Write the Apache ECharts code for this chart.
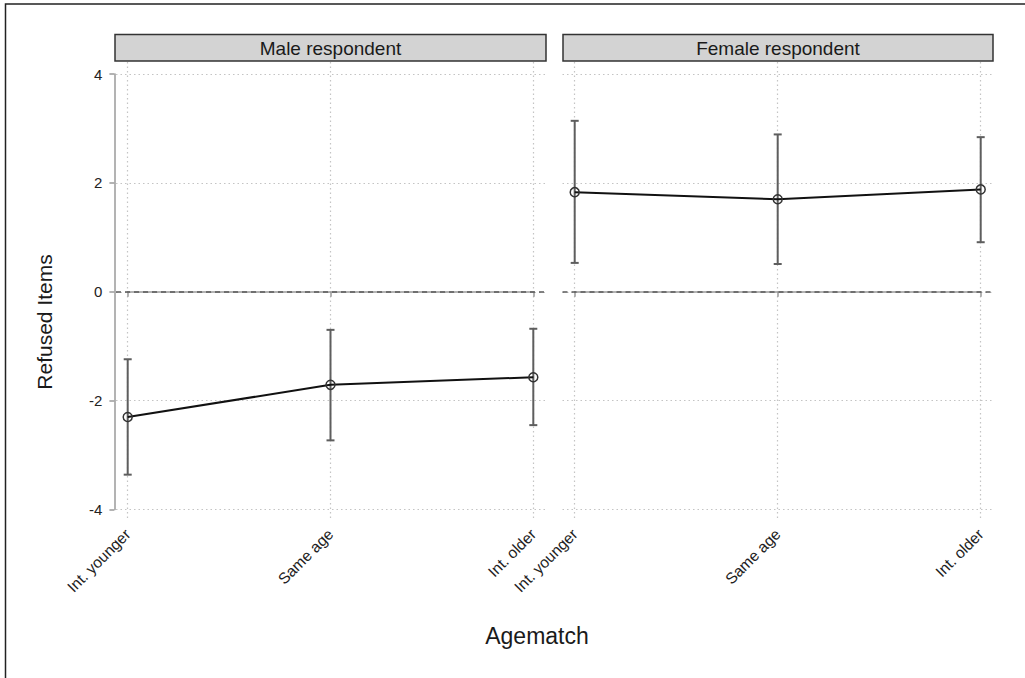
<!DOCTYPE html>
<html>
<head>
<meta charset="utf-8">
<style>
  html, body { margin: 0; padding: 0; background: #fff; }
  #chart { width: 1025px; height: 678px; }
</style>
<script src="https://cdn.jsdelivr.net/npm/echarts@6/dist/echarts.min.js"></script>
</head>
<body>
<div id="chart"></div>
<script>
// data
const categories = ['Int. younger', 'Same age', 'Int. older'];
const panelTitles = ['Male respondent', 'Female respondent'];
const maleMean = [-2.30, -1.71, -1.57];
const maleLow = [-3.36, -2.73, -2.45];
const maleHigh = [-1.24, -0.70, -0.68];
const femaleMean = [1.83, 1.70, 1.88];
const femaleLow = [0.53, 0.51, 0.91];
const femaleHigh = [3.14, 2.89, 2.84];
const yMin = -4, yMax = 4, yStep = 2;

const FONT = 'Liberation Sans, Arial, Helvetica, sans-serif';
const gridColor = '#c4c4c4';
const axisColor = '#9a9a9a';

// panel layout (px)
const panels = [
  { left: 127.7, right: 533.3, bgLeft: 116, bgRight: 546 },
  { left: 574.7, right: 980.7, bgLeft: 562.5, bgRight: 993 }
];
const plotTop = 74, plotBottom = 509.5;

function errorBarItem(params, api) {
  const x = api.value(0);
  const top = api.coord([x, api.value(2)]);
  const bot = api.coord([x, api.value(1)]);
  const cap = 4;
  const style = { stroke: '#5e5e5e', lineWidth: 2 };
  return {
    type: 'group',
    children: [
      { type: 'line', shape: { x1: top[0], y1: top[1], x2: bot[0], y2: bot[1] }, style },
      { type: 'line', shape: { x1: top[0] - cap, y1: top[1], x2: top[0] + cap, y2: top[1] }, style },
      { type: 'line', shape: { x1: bot[0] - cap, y1: bot[1], x2: bot[0] + cap, y2: bot[1] }, style }
    ]
  };
}

const grids = [], xAxes = [], yAxes = [], series = [];

panels.forEach((p, k) => {
  // 0/1: main plotting grids
  grids[k] = { left: p.left, top: plotTop, width: p.right - p.left, height: plotBottom - plotTop, outerBoundsMode: 'none' };
  xAxes[k] = {
    gridIndex: k, type: 'category', data: categories, boundaryGap: false, offset: 13,
    axisLine: { show: true, lineStyle: { color: axisColor, width: 1.5 } },
    axisTick: { show: true, length: 5, inside: false, lineStyle: { color: axisColor, width: 1.5 } },
    axisLabel: { rotate: 45, margin: 9, fontSize: 15.5, color: '#222', fontFamily: FONT, interval: 0 },
    splitLine: { show: false }
  };
  yAxes[k] = {
    gridIndex: k, type: 'value', min: yMin, max: yMax, interval: yStep, offset: 13.3,
    show: k === 0,
    axisLine: { show: true, lineStyle: { color: axisColor, width: 1.5 } },
    axisTick: { show: true, length: 5, lineStyle: { color: axisColor, width: 1.5 } },
    axisLabel: { fontSize: 15, color: '#222', fontFamily: FONT, margin: 12 },
    splitLine: { show: false }
  };
});

panels.forEach((p, k) => {
  // 2/3: horizontal gridlines + zero line, full panel width
  const gi = 2 + k;
  grids[gi] = { left: p.bgLeft, top: plotTop, width: p.bgRight - p.bgLeft, height: plotBottom - plotTop, outerBoundsMode: 'none' };
  xAxes[gi] = { gridIndex: gi, type: 'value', min: 0, max: 1, show: false, splitLine: { show: false } };
  yAxes[gi] = {
    gridIndex: gi, type: 'value', min: yMin, max: yMax, interval: yStep,
    axisLine: { show: false }, axisTick: { show: false }, axisLabel: { show: false },
    splitLine: { show: true, lineStyle: { color: gridColor, width: 1.2, type: [1.5, 3] } }
  };
  series.push({
    type: 'line', xAxisIndex: gi, yAxisIndex: gi, data: [], silent: true,
    markLine: {
      silent: true, symbol: 'none', label: { show: false },
      lineStyle: { color: '#5a5a5a', width: 1.5, type: [5, 4] },
      data: [{ yAxis: 0 }]
    }
  });
});

panels.forEach((p, k) => {
  // 4/5: vertical gridlines, taller than the plot
  const gi = 4 + k;
  grids[gi] = { left: p.left, top: 62, width: p.right - p.left, height: 458, outerBoundsMode: 'none' };
  xAxes[gi] = {
    gridIndex: gi, type: 'category', data: categories, boundaryGap: false,
    axisLine: { show: false }, axisTick: { show: false }, axisLabel: { show: false },
    splitLine: { show: true, interval: 0, lineStyle: { color: gridColor, width: 1.2, type: [1.5, 3] } }
  };
  yAxes[gi] = { gridIndex: gi, type: 'value', show: false, splitLine: { show: false } };
});

const groups = [
  { mean: maleMean, low: maleLow, high: maleHigh },
  { mean: femaleMean, low: femaleLow, high: femaleHigh }
];
groups.forEach((g, k) => {
  series.push({
    type: 'custom', xAxisIndex: k, yAxisIndex: k, z: 3,
    renderItem: errorBarItem,
    data: categories.map((c, i) => [i, g.low[i], g.high[i]])
  });
  series.push({
    type: 'line', xAxisIndex: k, yAxisIndex: k, z: 4,
    data: g.mean,
    symbol: 'circle', symbolSize: 9,
    itemStyle: { color: 'rgba(255,255,255,0)', borderColor: '#333', borderWidth: 1.5 },
    lineStyle: { color: '#111', width: 2 }
  });
});

// strip headers, titles, outer frame
const graphics = [
  { type: 'rect', shape: { x: 5.5, y: 4, width: 1100, height: 700 }, style: { fill: 'none', stroke: '#222', lineWidth: 1.5 }, silent: true }
];
panels.forEach((p, k) => {
  const x0 = k === 0 ? 115 : 563, x1 = k === 0 ? 546 : 993;
  graphics.push({ type: 'rect', shape: { x: x0, y: 34.5, width: x1 - x0, height: 26.5 },
    style: { fill: '#d3d3d3', stroke: '#333', lineWidth: 1.5 } });
  graphics.push({ type: 'text', x: (x0 + x1) / 2, y: 48,
    style: { text: panelTitles[k], fontSize: 19, fontFamily: FONT, fill: '#1a1a1a', align: 'center', verticalAlign: 'middle' } });
});
graphics.push({ type: 'text', x: 537, y: 636,
  style: { text: 'Agematch', fontSize: 23, fontFamily: FONT, fill: '#1a1a1a', align: 'center', verticalAlign: 'middle' } });
graphics.push({ type: 'text', x: 44, y: 322, rotation: Math.PI / 2,
  style: { text: 'Refused Items', fontSize: 21, fontFamily: FONT, fill: '#1a1a1a', align: 'center', verticalAlign: 'middle' } });

const chart = echarts.init(document.getElementById('chart'), null, { renderer: 'svg' });
chart.setOption({
  backgroundColor: '#fff',
  animation: false,
  grid: grids,
  xAxis: xAxes,
  yAxis: yAxes,
  series: series,
  graphic: graphics
});
</script>
</body>
</html>
